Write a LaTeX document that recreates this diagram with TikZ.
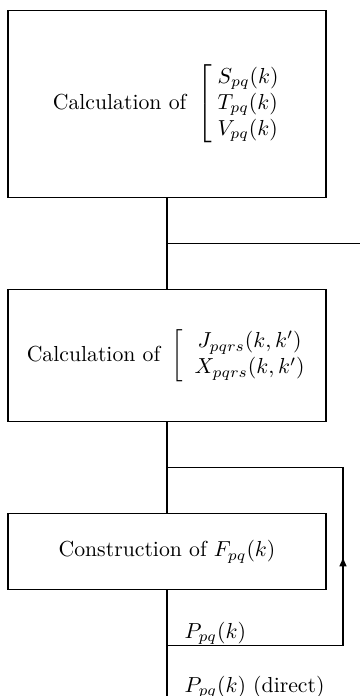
\documentclass[tikz,border=0pt]{standalone}
\usetikzlibrary{arrows.meta,positioning,calc}

\begin{document}
\begin{tikzpicture}[
  x=0.46pt, y=-0.46pt,
  >={Latex[length=4.5pt,width=3.5pt]},
  line width=0.5pt,
  block/.style={rectangle, draw, minimum width=146.3pt, inner sep=0pt, align=center},
  flow/.style={draw, line width=0.5pt},
  tag/.style={anchor=base west, inner sep=0pt}
]
  \useasboundingbox (0,0) rectangle (360,696);
  \node[block, minimum height=86pt] (calc1) at (167,104)
    {Calculation of\, $\left[\begin{array}{@{\;}l@{}} S_{pq}(k)\\ T_{pq}(k)\\ V_{pq}(k) \end{array}\right.$};
  \node[block, minimum height=60.7pt, below=41.9pt of calc1] (calc2)
    {Calculation of\, $\left[\begin{array}{@{\;\;}c@{}} J_{pqrs}(k,k')\\ X_{pqrs}(k,k') \end{array}\right.$};
  \node[block, minimum height=35pt, below=41.9pt of calc2] (build)
    {Construction of $F_{pq}(k)$};
  % trunk
  \coordinate (edge) at (360,0);
  \coordinate (loop) at (343,0);
  \coordinate (bottom) at (167,696);
  \draw[flow] (calc1) -- (calc2);
  \draw[flow] (calc2) -- (build);
  \draw[flow] (build.south) -- (build.south |- bottom);
  % branches
  \coordinate (tap1) at ($(calc1.south)!0.5!(calc2.north)$);
  \coordinate (tap2) at ($(calc2.south)!0.5!(build.north)$);
  \coordinate (tap3) at ($(build.south)+(0,55)$);
  \draw[flow] (tap1) -- (tap1 -| edge);
  \draw[flow] (tap3) -- (tap3 -| loop) -- (tap2 -| loop) -- (tap2);
  \draw[flow,->] (tap3 -| loop) -- ($(tap3 -| loop)!0.5!(tap2 -| loop)$);
  % labels
  \node[tag] (pk) at ($(tap3)+(17,-7)$) {$P_{pq}(k)$};
  \node[tag] (pkd) at ($(tap3)+(17,47)$) {$P_{pq}(k)$ (direct)};
\end{tikzpicture}
\end{document}
